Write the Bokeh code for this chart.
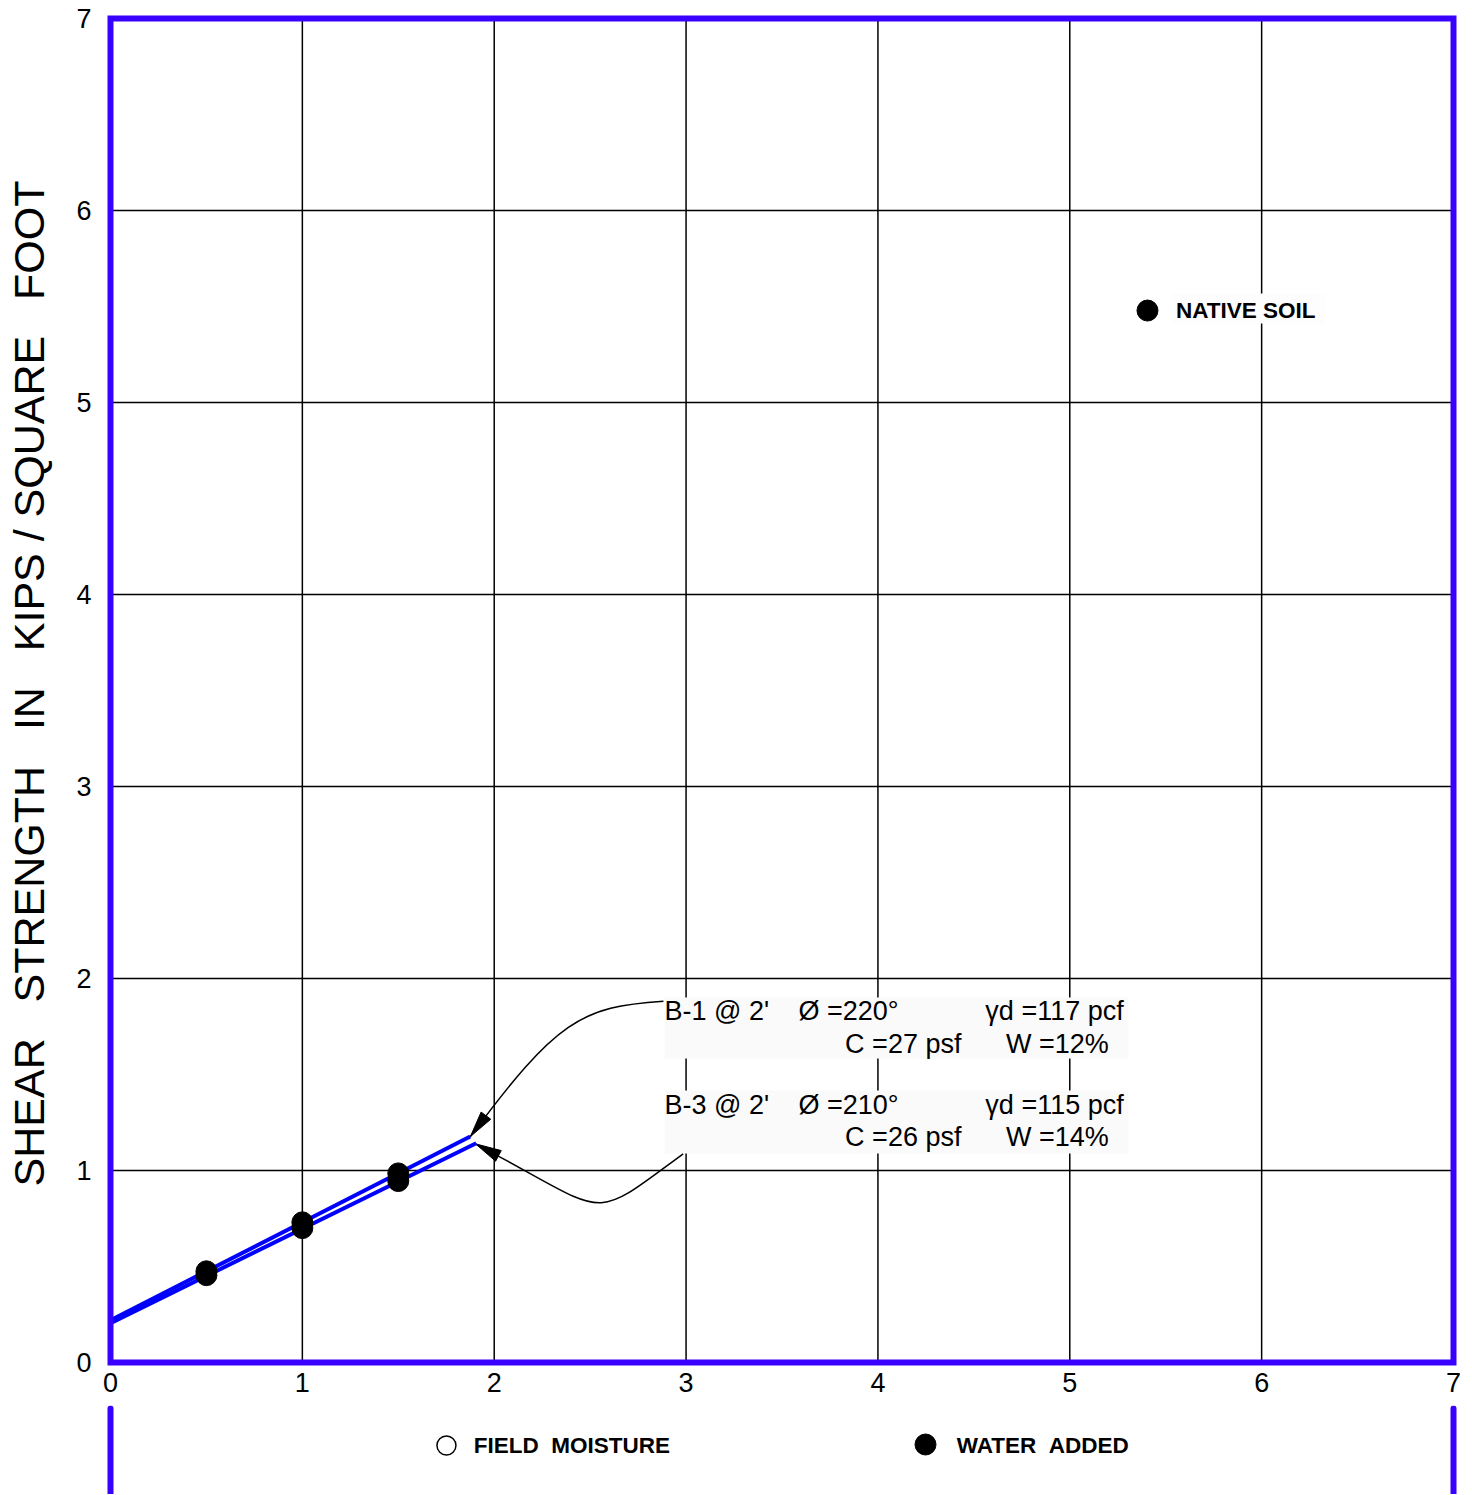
import math
from bokeh.plotting import figure
from bokeh.layouts import column
from bokeh.models import Range1d, FixedTicker
from bokeh.core.properties import value
from bokeh.embed import file_html
from bokeh.resources import INLINE

# ---------------- data ----------------
ticks = [0, 1, 2, 3, 4, 5, 6, 7]
tick_labels = {t: str(t) for t in ticks}

b1_line_x = [0.0, 1.875]
b1_line_y = [0.22, 1.177]
b3_line_x = [0.0, 1.906]
b3_line_y = [0.205, 1.142]

b1_pts_x = [0.5, 1.0, 1.5]
b1_pts_y = [0.475, 0.73, 0.985]
b3_pts_x = [0.5, 1.0, 1.5]
b3_pts_y = [0.455, 0.70, 0.945]

native_x = [5.405]
native_y = [5.479]

y_title = "SHEAR\u00a0\u00a0\u00a0STRENGTH\u00a0\u00a0\u00a0IN\u00a0\u00a0\u00a0KIPS / SQUARE\u00a0\u00a0\u00a0FOOT"

# annotation texts (x, vertical middle y, text)
ann_x = [2.888, 3.586, 4.560, 3.829, 4.668, 2.888, 3.586, 4.560, 3.829, 4.668]
ann_y = [1.832, 1.832, 1.832, 1.661, 1.661, 1.339, 1.339, 1.339, 1.177, 1.177]
ann_text = ["B-1 @ 2'", "\u00d8 =220\u00b0", "\u03b3d =117 pcf", "C =27 psf", "W =12%",
            "B-3 @ 2'", "\u00d8 =210\u00b0", "\u03b3d =115 pcf", "C =26 psf", "W =14%"]
# annotation background boxes
box_left = [2.888, 2.888]
box_right = [5.306, 5.306]
box_top = [1.901, 1.417]
box_bottom = [1.583, 1.089]
native_box = dict(left=[5.535], right=[6.333], top=[5.568], bottom=[5.411])

# leader curves (cubic bezier): start, control1, control2, end(tip)
lead_x0 = [2.882, 2.985]
lead_y0 = [1.882, 1.087]
lead_cx0 = [2.453, 2.481]
lead_cy0 = [1.854, 0.716]
lead_cx1 = [2.325, 2.618]
lead_cy1 = [1.781, 0.763]
lead_x1 = [1.876, 1.902]
lead_y1 = [1.177, 1.139]

FRAME_COLOR = "#3800FF"
LINE_BLUE = "#0000FF"
FONT = "Liberation Sans"

PX_X = 1343 / 7.0
PX_Y = 1344 / 7.0

# arrowheads computed from end tangent
head_xs, head_ys = [], []
HEAD_L, HEAD_W = 26.0, 12.0
for i in range(2):
    dx = (lead_x1[i] - lead_cx1[i]) * PX_X
    dy = (lead_y1[i] - lead_cy1[i]) * PX_Y
    n = math.hypot(dx, dy)
    ux, uy = dx / n, dy / n
    bx = lead_x1[i] * PX_X - ux * HEAD_L
    by = lead_y1[i] * PX_Y - uy * HEAD_L
    px, py = -uy, ux
    pts = [(lead_x1[i] * PX_X, lead_y1[i] * PX_Y),
           (bx + px * HEAD_W / 2, by + py * HEAD_W / 2),
           (bx - px * HEAD_W / 2, by - py * HEAD_W / 2)]
    head_xs.append([q[0] / PX_X for q in pts])
    head_ys.append([q[1] / PX_Y for q in pts])

XR = (-10 / PX_X, 7 + 10 / PX_X)
LO, HI = ticks[0], ticks[-1]

# ---------------- main figure ----------------
p = figure(width=1472, height=1405,
           x_range=Range1d(*XR), y_range=Range1d(-4 / PX_Y, 7 + 18 / PX_Y),
           output_backend="svg", toolbar_location=None,
           min_border_left=100, min_border_right=9, min_border_top=0, min_border_bottom=39)
p.background_fill_color = "white"
p.border_fill_color = "white"
p.outline_line_color = None
p.grid.visible = False

for ax in (p.xaxis, p.yaxis):
    ax.ticker = FixedTicker(ticks=ticks)
    ax.major_label_overrides = tick_labels
    ax.axis_line_color = None
    ax.major_tick_line_color = None
    ax.minor_tick_line_color = None
    ax.major_label_text_font = FONT
    ax.major_label_text_font_size = "27px"
    ax.major_label_text_color = "black"
p.xaxis.major_label_standoff = 0
p.yaxis.major_label_standoff = 3
p.yaxis.axis_label = y_title
p.yaxis.axis_label_text_font = FONT
p.yaxis.axis_label_text_font_size = "43px"
p.yaxis.axis_label_text_font_style = "normal"
p.yaxis.axis_label_text_color = "black"
p.yaxis.axis_label_standoff = 20

# grid lines bounded to the plot box
p.segment(x0=ticks, y0=[LO] * len(ticks), x1=ticks, y1=[HI] * len(ticks),
          line_color="black", line_width=1.5)
p.segment(x0=[LO] * len(ticks), y0=ticks, x1=[HI] * len(ticks), y1=ticks,
          line_color="black", line_width=1.5)

# background boxes for annotations
p.quad(left=box_left, right=box_right, top=box_top, bottom=box_bottom,
       fill_color="#FAFAFA", line_color=None)
p.quad(fill_color="#FDFDFD", line_color=None, **native_box)

# leader curves and heads
p.bezier(x0=lead_x0, y0=lead_y0, x1=lead_x1, y1=lead_y1,
         cx0=lead_cx0, cy0=lead_cy0, cx1=lead_cx1, cy1=lead_cy1,
         line_color="black", line_width=1.5)
p.patches(xs=head_xs, ys=head_ys, fill_color="black", line_color="black", line_width=1)

# fit lines
p.line(b1_line_x, b1_line_y, line_color=LINE_BLUE, line_width=4)
p.line(b3_line_x, b3_line_y, line_color=LINE_BLUE, line_width=4)

# points
p.scatter(b1_pts_x, b1_pts_y, size=21, fill_color="black", line_color="black")
p.scatter(b3_pts_x, b3_pts_y, size=21, fill_color="black", line_color="black")

# native soil legend
p.scatter(native_x, native_y, size=21, fill_color="black", line_color="black")
p.text(x=[5.553], y=native_y, text=["NATIVE SOIL"], text_font=value(FONT),
       text_font_size=value("22.5px"), text_font_style="bold", text_color="black",
       text_baseline="middle", text_align="left")

# annotation texts
p.text(x=ann_x, y=ann_y, text=ann_text, text_font=value(FONT),
       text_font_size=value("27px"), text_color="black",
       text_baseline="middle", text_align="left")

# plot frame
p.quad(left=[LO], right=[HI], bottom=[LO], top=[HI], fill_color=None,
       line_color=FRAME_COLOR, line_width=6, line_join="miter")

# ---------------- lower legend strip ----------------
p2 = figure(width=1472, height=89, x_range=Range1d(*XR), y_range=Range1d(0, 89),
            output_backend="svg", toolbar_location=None,
            x_axis_type=None, y_axis_type=None,
            min_border_left=100, min_border_right=9, min_border_top=0, min_border_bottom=0)
p2.outline_line_color = None
p2.background_fill_color = "white"
p2.border_fill_color = "white"
p2.grid.visible = False

p2.multi_line(xs=[[LO, LO], [HI, HI]], ys=[[86, -10], [86, -10]],
              line_color=FRAME_COLOR, line_width=6, line_cap="round")

legend_marker_x = [1.751, 4.248]
legend_text_x = [1.893, 4.411]
legend_labels = ["FIELD\u00a0\u00a0MOISTURE", "WATER\u00a0\u00a0ADDED"]
p2.scatter([legend_marker_x[0]], [49], size=19, fill_color="white", line_color="black", line_width=1.5)
p2.scatter([legend_marker_x[1]], [50], size=21, fill_color="black", line_color="black")
p2.text(x=legend_text_x, y=[49, 49], text=legend_labels, text_font=value(FONT),
        text_font_size=value("22.5px"), text_font_style="bold", text_color="black",
        text_baseline="middle", text_align="left")

layout = column(p, p2, spacing=0)
open("out.html", "w").write(file_html(layout, INLINE))
